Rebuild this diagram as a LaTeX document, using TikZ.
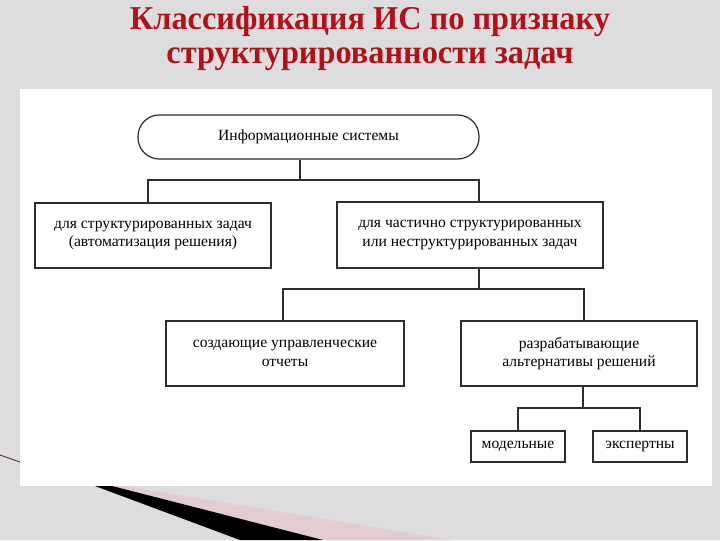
\documentclass[tikz,border=0pt]{standalone}
\usepackage{graphicx}
\usepackage{fontspec}
\setmainfont{Liberation Serif}
\definecolor{bggray}{RGB}{221,221,223}
\definecolor{titlered}{RGB}{176,18,26}
\definecolor{pinkband}{RGB}{226,204,208}
\definecolor{linegray}{RGB}{45,45,45}
\tikzset{
  box/.style={draw=linegray, line width=0.9pt, fill=white, inner sep=0pt, align=center,
    font=\fontsize{11.7}{14}\selectfont},
  conn/.style={draw=linegray, line width=0.9pt},
  titletext/.style={text=titlered, font=\bfseries\fontsize{25}{25}\selectfont, anchor=base, inner sep=0pt}
}
\begin{document}
\begin{tikzpicture}[x=0.75pt, y=-0.75pt]
\useasboundingbox (0,0) rectangle (720,540);
% background
\fill[bggray] (0,0) rectangle (720,540);
% decorative swoosh
\fill[pinkband] (112,486) -- (123,486) -- (450,540) -- (323,540) -- cycle;
\fill[black] (95,486) -- (112,486) -- (323,540) -- (240,540) -- cycle;
\draw[line width=0.6pt, color={rgb,255:red,90;green,20;blue,25}] (0,455) -- (20,462);
% white panel
\fill[white] (20,89) rectangle (712,486);
% title
\node[titletext] (t1) at (370,29) {\scalebox{0.97}[1]{Классификация ИС по признаку}};
\node[titletext] (t2) at (370,63) {\scalebox{0.97}[1]{структурированности задач}};
% boxes
\node[box, rounded corners=16pt, minimum width=255.75pt, minimum height=33pt] (top) at (308.5,137) {Информационные системы};
\node[box, minimum width=177pt, minimum height=48.75pt] (L1) at (153,235.5) {для структурированных задач\\(автоматизация решения)};
\node[box, minimum width=199.5pt, minimum height=49.5pt] (R1) at (470,235) {для частично структурированных\\или неструктурированных задач};
\node[box, minimum width=178.5pt, minimum height=48.75pt] (L2) at (285,353.5) {создающие управленческие\\отчеты};
\node[box, minimum width=177pt, minimum height=48.75pt] (R2) at (579,353.5) {разрабатывающие\\альтернативы решений};
\node[box, minimum width=70.5pt, minimum height=23.25pt] (M1) at (518,446.5) {модельные};
\node[box, minimum width=70.5pt, minimum height=23.25pt] (M2) at (640,446.5) {экспертны};
% bus coordinates
\coordinate (b0) at (300,180);
\coordinate (cL1) at (148,180);
\coordinate (cR1) at (479,180);
\coordinate (b1) at (479,289);
\coordinate (cL2) at (283,289);
\coordinate (cR2) at (584,289);
\coordinate (b2) at (583,408);
\coordinate (cM1) at (518,408);
\coordinate (cM2) at (640,408);
% connectors
\draw[conn] (top.south -| b0) -- (b0);
\draw[conn] (L1.north -| cL1) -- (cL1) -- (cR1) -- (R1.north -| cR1);
\draw[conn] (R1.south -| b1) -- (b1);
\draw[conn] (L2.north -| cL2) -- (cL2) -- (cR2) -- (R2.north -| cR2);
\draw[conn] (R2.south -| b2) -- (b2);
\draw[conn] (M1.north -| cM1) -- (cM1) -- (cM2) -- (M2.north -| cM2);
\end{tikzpicture}
\end{document}
